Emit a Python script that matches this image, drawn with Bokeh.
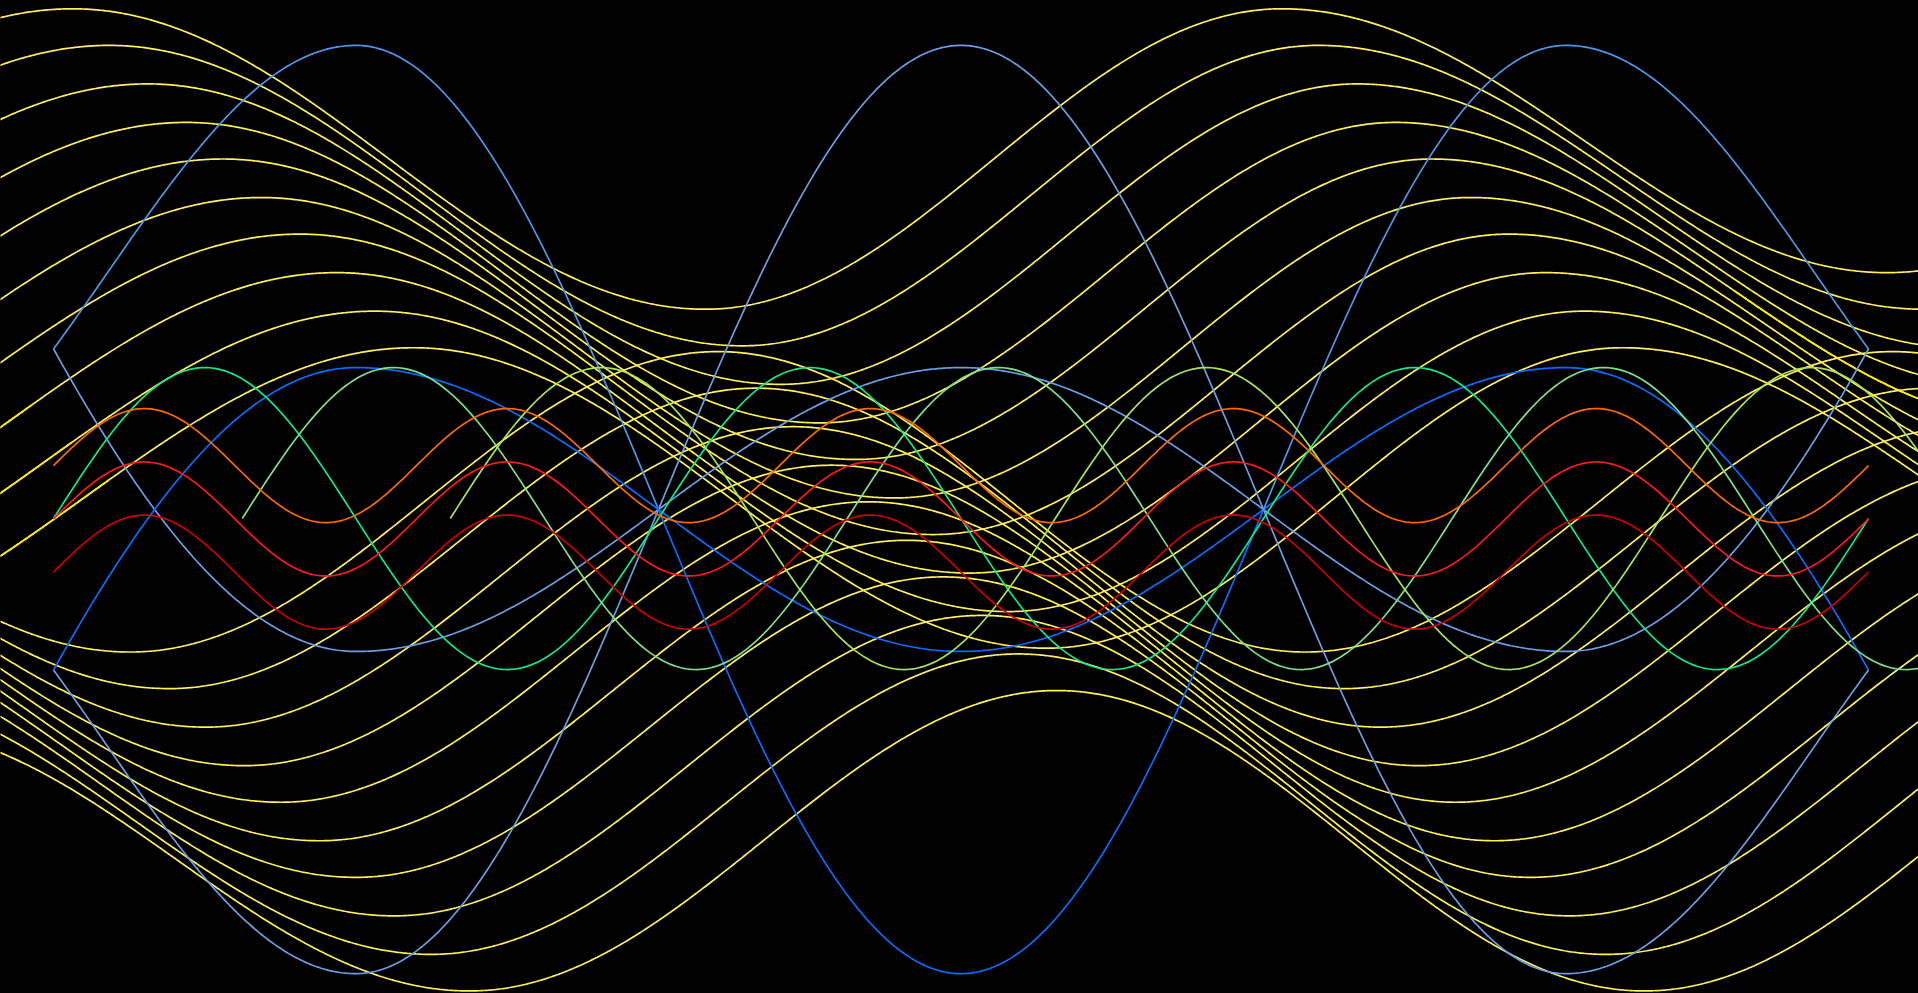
import numpy as np
from bokeh.plotting import figure
from bokeh.models import Range1d
from bokeh.embed import file_html
from bokeh.resources import INLINE

# ---------------- data (x: phase units, y: amplitude units) -------------
SPAN = 3 * np.pi                      # every finite curve spans 1.5 periods of the blue wave

# blue loops (two mirrored loops)
BLUE_BIG_AMP = 2.41
BLUE_SMALL_AMP = 0.737
BLUE_CORNER = 0.834

# green waves
GREEN_START = [0.0, 0.98, 2.06]
GREEN_CENTER = -0.047
GREEN_AMP = 0.784
GREEN_COLORS = ["#12e88a", "#7fe08a", "#a8e45a"]

# orange / red waves (five periods across the span)
WAVE_CENTER = [0.228, -0.049, -0.325]
WAVE_AMP = 0.296
WAVE_COLORS = ["#ff6a00", "#ff1a1a", "#d00000"]

# yellow family 1 : first peaks (x, y)
F1_PEAK_X = [0.10, 0.29, 0.49, 0.69, 0.88, 1.08, 1.28, 1.47, 1.67, 1.87]
F1_PEAK_Y = [2.60, 2.41, 2.21, 2.01, 1.82, 1.62, 1.43, 1.23, 1.03, 0.84]
F1_AMP = 0.78          # first cycle half height
F1_AMP2 = 0.685        # half height of the last descent
F1_RATE = [0.917, 0.956, 1.05, 1.0]   # rise before peak, first fall, rise, last fall
# bright yellow pieces of family 1: member -> (x from, x to)
F1_BRIGHT = {7: (-1.0, -0.10), 8: (-1.0, 0.10), 9: (-1.0, 0.29), 4: (8.72, 11.0)}

# yellow family 2 : troughs (x, y)
F2_TROUGH_X = [0.40, 0.60, 0.79, 0.99, 1.18, 1.38, 1.57, 1.77, 1.96, 2.16]
F2_TROUGH_Y = [-0.74, -0.93, -1.13, -1.33, -1.52, -1.72, -1.91, -2.11, -2.31, -2.50]
F2_AMP_LEFT = 0.685    # half height left of the first trough
F2_AMP = 0.78          # half height after the first trough
F2_PERIOD = 6.10

YELLOW = "#fff05c"
YELLOW_BRIGHT = "#ffec00"
BLUE_LIGHT = "#4a98ea"
BLUE_STEEL = "#6a9fe6"
BLUE_BRIGHT = "#0a6cff"

X_MIN, X_MAX = -0.2752, 9.6843
Y_MIN, Y_MAX = -2.5132, 2.6431

p = figure(width=1918, height=993, x_range=Range1d(X_MIN, X_MAX), y_range=Range1d(Y_MIN, Y_MAX),
           output_backend="svg", toolbar_location=None, min_border=0,
           background_fill_color="black", border_fill_color="black", outline_line_color=None)
p.xaxis.visible = False
p.yaxis.visible = False
p.grid.visible = False

LW = 1.7
xs_full = np.linspace(X_MIN - 0.05, X_MAX + 0.05, 1200)


def family1(x, px, py):
    k1, k2, k3, k4 = F1_RATE
    c = py - F1_AMP
    t1 = px + np.pi / k2           # first trough
    t2 = t1 + np.pi / k3           # second peak
    y = np.empty_like(x)
    m0 = x < px
    m1 = (x >= px) & (x < t1)
    m2 = (x >= t1) & (x < t2)
    m3 = x >= t2
    y[m0] = c + F1_AMP * np.cos((x[m0] - px) * k1)
    y[m1] = c + F1_AMP * np.cos((x[m1] - px) * k2)
    y[m2] = c + F1_AMP * np.cos(np.pi + (x[m2] - t1) * k3)
    y[m3] = (py - F1_AMP2) + F1_AMP2 * np.cos((x[m3] - t2) * k4)
    return y


def family2(x, tx, ty):
    amp = np.where(x < tx, F2_AMP_LEFT, F2_AMP)
    return ty + amp * (1 - np.cos(2 * np.pi * (x - tx) / F2_PERIOD))


# yellow family 1
for i, (px, py) in enumerate(zip(F1_PEAK_X, F1_PEAK_Y)):
    y = family1(xs_full, px, py)
    p.line(xs_full, y, line_color=YELLOW, line_width=LW)
    if i in F1_BRIGHT:
        lo, hi = F1_BRIGHT[i]
        m = (xs_full >= lo) & (xs_full <= hi)
        p.line(xs_full[m], y[m], line_color=YELLOW_BRIGHT, line_width=LW)

# yellow family 2
for tx, ty in zip(F2_TROUGH_X, F2_TROUGH_Y):
    p.line(xs_full, family2(xs_full, tx, ty), line_color=YELLOW, line_width=LW)

# blue loops
xb = np.linspace(0, SPAN, 900)
h = np.zeros_like(xb)
left = xb < np.pi / 2
right = xb > SPAN - np.pi / 2
h[left] = (1 - 2 * xb[left] / np.pi) ** 2
h[right] = (1 - 2 * (SPAN - xb[right]) / np.pi) ** 2
P1 = BLUE_BIG_AMP * np.sin(xb) + BLUE_CORNER * h
R1 = -BLUE_SMALL_AMP * np.sin(xb) + BLUE_CORNER * h

p.line(xb, -P1, line_color=BLUE_STEEL, line_width=LW)
p.line(xb, R1, line_color=BLUE_STEEL, line_width=LW)
p.line(xb, -R1, line_color=BLUE_BRIGHT, line_width=LW)
a = xb <= np.pi + 0.01
mid = (xb >= np.pi - 0.01) & (xb <= 2 * np.pi + 0.01)
b = xb >= 2 * np.pi - 0.01
p.line(xb[a], P1[a], line_color=BLUE_LIGHT, line_width=LW)
p.line(xb[mid], P1[mid], line_color=BLUE_BRIGHT, line_width=LW)
p.line(xb[b], P1[b], line_color=BLUE_LIGHT, line_width=LW)

# green waves
for s, c in zip(GREEN_START, GREEN_COLORS):
    xg = np.linspace(s, s + SPAN, 700)
    p.line(xg, GREEN_CENTER + GREEN_AMP * np.sin(2 * (xg - s)), line_color=c, line_width=LW)

# orange / red waves
xw = np.linspace(0, SPAN, 900)
for cen, c in zip(WAVE_CENTER, WAVE_COLORS):
    p.line(xw, cen + WAVE_AMP * np.sin(10 * xw / 3), line_color=c, line_width=LW)

html = file_html(p, INLINE)
html = html.replace("<head>", "<head><style>html,body{margin:0;padding:0;background:#000;overflow:hidden}</style>", 1)
open("out.html", "w").write(html)
